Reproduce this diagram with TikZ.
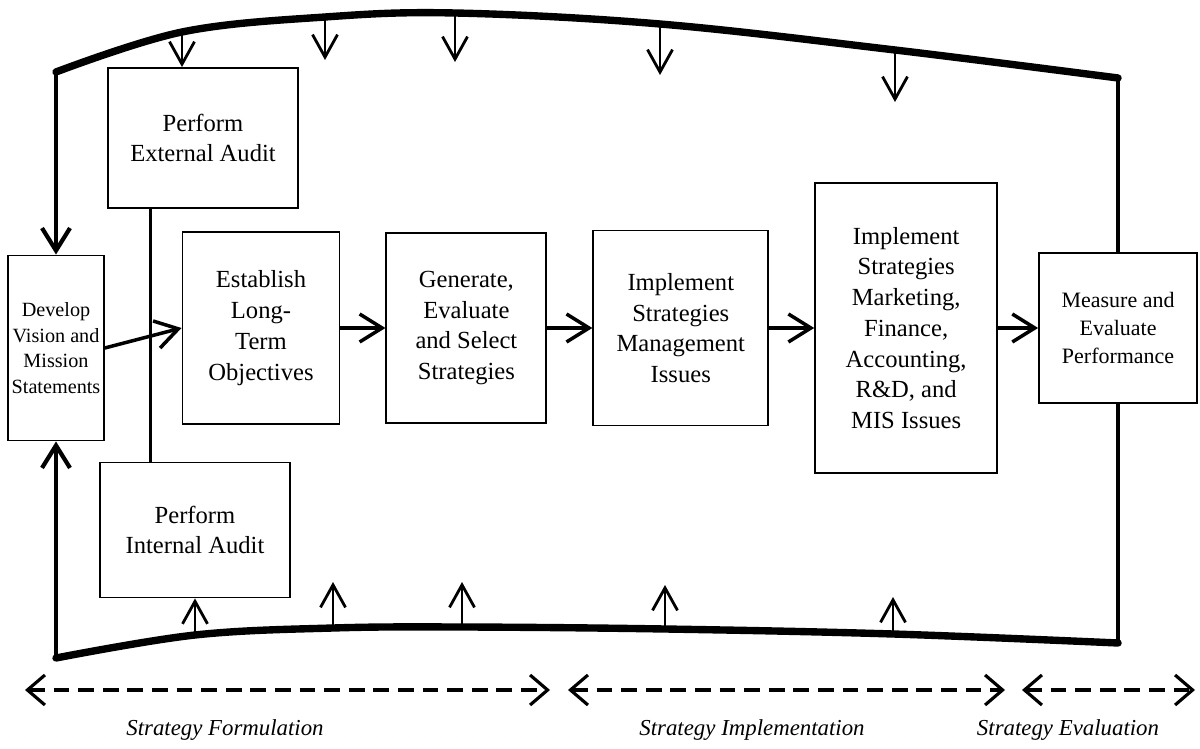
\documentclass[tikz,border=0pt]{standalone}
\usepackage{fontspec}
\setmainfont{Liberation Serif}
\usetikzlibrary{arrows.meta,positioning}

\begin{document}
\begin{tikzpicture}[x=0.02cm,y=-0.02cm,node distance=9mm,
  box/.style={draw,line width=1.1pt,align=center,fill=white,inner sep=2pt,font=\fontsize{14}{17.5}\selectfont},
  flow/.style={-{Straight Barb[length=4.5mm,width=5.6mm]},line width=2pt},
  tick/.style={-{Straight Barb[length=4.5mm,width=5mm]},line width=1.6pt},
  loopline/.style={line width=4.2pt,line cap=round},
  side/.style={line width=2.4pt},
  span/.style={{Straight Barb[length=3.5mm,width=6mm]}-{Straight Barb[length=3.5mm,width=6mm]},dash pattern=on 9pt off 5pt,line width=1.8pt},
  lab/.style={font=\fontsize{13}{15}\selectfont\itshape}]
  \useasboundingbox (0,0) rectangle (1200,749);
  % main chain
  \node[box,minimum width=3.14cm,minimum height=3.84cm](obj) at (261,328){Establish\\Long-\\Term\\Objectives};
  \node[box,minimum width=3.2cm,minimum height=3.8cm,right=of obj](gen){Generate,\\Evaluate\\and Select\\Strategies};
  \node[box,minimum width=3.5cm,minimum height=3.9cm,right=of gen](mgmt){Implement\\Strategies\\Management\\Issues};
  \node[box,minimum width=3.64cm,minimum height=5.8cm,right=of mgmt](mkt){Implement\\Strategies\\Marketing,\\Finance,\\Accounting,\\R\&D, and\\MIS Issues};
  \node[box,minimum width=3.16cm,minimum height=3cm,right=8mm of mkt,font=\fontsize{12.5}{16}\selectfont](meas){Measure and\\Evaluate\\Performance};
  % audits and vision
  \node[box,minimum width=3.8cm,minimum height=2.8cm](ext) at (203,138){Perform\\External Audit};
  \node[box,minimum width=3.8cm,minimum height=2.7cm](int) at (195,530){Perform\\Internal Audit};
  \node[box,minimum width=1.76cm,minimum height=3.7cm,font=\fontsize{11.5}{14.5}\selectfont](dev) at (56,348){Develop\\Vision and\\Mission\\Statements};
  % feedback loop
  \coordinate (tl) at (56,72);
  \coordinate (tr) at (meas.north |- 0,78);
  \coordinate (bl) at (56,658);
  \coordinate (br) at (meas.south |- 0,643);
  \foreach \n/\x/\y/\e in {1/182/32/0,2/325/17/60,3/455/13/62,4/660/24/75,5/895/50/102}{
    \coordinate (t\n) at (\x,\y);
    \coordinate (te\n) at (\x,\e);}
  \foreach \n/\x/\y/\e in {1/195/635/0,2/333/628/582,3/462/627/582,4/665/629/585,5/893/634/597}{
    \coordinate (b\n) at (\x,\y);
    \coordinate (be\n) at (\x,\e);}
  \draw[loopline] plot[smooth,tension=0.6] coordinates {(tl) (t1) (t2) (t3) (t4) (t5) (tr)};
  \draw[loopline] plot[smooth,tension=0.6] coordinates {(bl) (b1) (b2) (b3) (b4) (b5) (br)};
  \draw[side,-{Straight Barb[length=4.5mm,width=5.6mm]}] (tl) -- (dev.north);
  \draw[side,-{Straight Barb[length=4.5mm,width=5.6mm]}] (bl) -- (dev.south);
  \draw[side] (tr) -- (meas.north);
  \draw[side] (meas.south) -- (br);
  \draw[tick] (t1) -- (t1 |- ext.north);
  \draw[tick] (b1) -- (b1 |- int.south);
  \foreach \n in {2,3,4,5}{
    \draw[tick] (t\n) -- (te\n);
    \draw[tick] (b\n) -- (be\n);}
  % links
  \draw[line width=1.2pt] ([xshift=-1.05cm]ext.south) -- ([xshift=-1.05cm]ext.south |- int.north);
  \draw[flow] (dev.east) -- (obj.west);
  \draw[flow] (obj) -- (gen);
  \draw[flow] (gen) -- (mgmt);
  \draw[flow] (mgmt) -- (mkt);
  \draw[flow] (mkt) -- (meas);
  % stages
  \coordinate (f1) at (25,690); \coordinate (f2) at (550,690);
  \coordinate (i1) at (568,690); \coordinate (i2) at (1005,690);
  \coordinate (e1) at (1022,690); \coordinate (e2) at (1195,690);
  \draw[span] (f1) -- (f2);
  \draw[span] (i1) -- (i2);
  \draw[span] (e1) -- (e2);
  \node[lab](form) at (225,730){Strategy Formulation};
  \node[lab](impl) at (752,730){Strategy Implementation};
  \node[lab](eval) at (1068,730){Strategy Evaluation};
\end{tikzpicture}
\end{document}
